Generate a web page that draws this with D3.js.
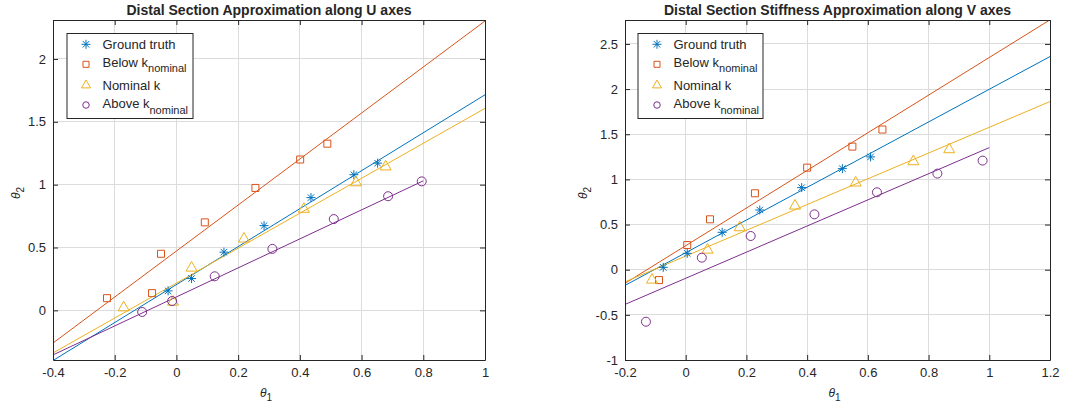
<!doctype html>
<html>
<head>
<meta charset="utf-8">
<script src="https://d3js.org/d3.v7.min.js"></script>
<style>
  body { margin: 0; background: #fff; }
  text { font-family: "Liberation Sans", Arial, Helvetica, sans-serif; fill: #262626; }
</style>
</head>
<body>
<svg id="chart" width="1071" height="406"></svg>
<script>
// ---- data ----
var seriesNames = ["Ground truth", "Below k", "Nominal k", "Above k"];
var seriesSubs = ["", "nominal", "", "nominal"];
var colors = ["#0072BD", "#D95319", "#EDB120", "#7E2F8E"];
var shapes = ["star", "square", "triangle", "circle"];

// U axes panel: [theta1, theta2]
var uGround = [[-0.027, 0.155], [0.049, 0.253], [0.154, 0.463], [0.284, 0.674], [0.436, 0.897], [0.575, 1.079], [0.652, 1.171]];
var uBelow = [[-0.225, 0.097], [-0.079, 0.137], [-0.050, 0.450], [0.092, 0.700], [0.256, 0.974], [0.401, 1.200], [0.489, 1.326]];
var uNominal = [[-0.171, 0.029], [-0.011, 0.074], [0.049, 0.345], [0.219, 0.576], [0.413, 0.813], [0.582, 1.024], [0.678, 1.150]];
var uAbove = [[-0.111, -0.013], [-0.014, 0.074], [0.124, 0.271], [0.311, 0.489], [0.510, 0.726], [0.686, 0.908], [0.795, 1.026]];
// fitted lines: [slope, intercept, xStart, xEnd]
var uFits = [[1.51, 0.205, -0.4, 1.0], [1.83, 0.472, -0.4, 1.0], [1.39, 0.217, -0.4, 1.0], [1.154, 0.107, -0.4, 0.8]];

// V axes panel
var vGround = [[-0.074, 0.026], [0.005, 0.181], [0.120, 0.414], [0.244, 0.661], [0.382, 0.909], [0.516, 1.119], [0.609, 1.249]];
var vBelow = [[-0.088, -0.115], [0.005, 0.273], [0.080, 0.558], [0.228, 0.846], [0.400, 1.130], [0.549, 1.363], [0.648, 1.552]];
var vNominal = [[-0.111, -0.103], [0.072, 0.229], [0.178, 0.477], [0.360, 0.717], [0.560, 0.972], [0.750, 1.208], [0.868, 1.341]];
var vAbove = [[-0.131, -0.576], [0.053, 0.133], [0.214, 0.373], [0.424, 0.613], [0.630, 0.857], [0.829, 1.064], [0.978, 1.208]];
var vFits = [[1.81, 0.188, -0.2, 1.2], [2.084, 0.266, -0.2, 1.2], [1.426, 0.151, -0.2, 1.2], [1.447, -0.095, -0.2, 1.0]];

var uXTicks = [-0.4, -0.2, 0, 0.2, 0.4, 0.6, 0.8, 1];
var uYTicks = [0, 0.5, 1, 1.5, 2];
var vXTicks = [-0.2, 0, 0.2, 0.4, 0.6, 0.8, 1, 1.2];
var vYTicks = [-1, -0.5, 0, 0.5, 1, 1.5, 2, 2.5];

var svg = d3.select("#chart");

function markerPath(shape, s) {
  var h = s / 2;
  if (shape === "star") {
    var d = h * 0.72;
    return "M" + (-h) + ",0L" + h + ",0M0," + (-h) + "L0," + h +
           "M" + (-d) + "," + (-d) + "L" + d + "," + d + "M" + (-d) + "," + d + "L" + d + "," + (-d);
  }
  if (shape === "square") return "M" + (-h) + "," + (-h) + "h" + s + "v" + s + "h" + (-s) + "Z";
  if (shape === "triangle") return "M0," + (-h) + "L" + h + "," + (h * 0.75) + "L" + (-h) + "," + (h * 0.75) + "Z";
  return d3.arc()({innerRadius: 0, outerRadius: h, startAngle: 0, endAngle: 2 * Math.PI});
}
var plotSizes = {star: 9, square: 7, triangle: 11, circle: 9};
var legendSizes = {star: 9, square: 6, triangle: 9, circle: 6.5};

function panel(opt) {
  var x = d3.scaleLinear().domain(opt.xDomain).range([opt.left, opt.right]);
  var y = d3.scaleLinear().domain(opt.yDomain).range([opt.bottom, opt.top]);
  var g = svg.append("g");

  // grid
  g.append("g").selectAll("line.vx").data(opt.xTicks).enter().append("line")
    .attr("x1", d => x(d)).attr("x2", d => x(d)).attr("y1", opt.top).attr("y2", opt.bottom)
    .attr("stroke", "#dcdcdc").attr("stroke-width", 1).attr("shape-rendering", "crispEdges");
  g.append("g").selectAll("line.hy").data(opt.yTicks).enter().append("line")
    .attr("y1", d => y(d)).attr("y2", d => y(d)).attr("x1", opt.left).attr("x2", opt.right)
    .attr("stroke", "#dcdcdc").attr("stroke-width", 1).attr("shape-rendering", "crispEdges");

  // clip for lines
  var clipId = "clip" + opt.id;
  svg.append("clipPath").attr("id", clipId).append("rect")
    .attr("x", opt.left).attr("y", opt.top).attr("width", opt.right - opt.left).attr("height", opt.bottom - opt.top);

  var line = d3.line().x(d => x(d[0])).y(d => y(d[1]));
  var plot = g.append("g").attr("clip-path", "url(#" + clipId + ")");
  opt.fits.forEach(function (f, i) {
    var pts = [[f[2], f[0] * f[2] + f[1]], [f[3], f[0] * f[3] + f[1]]];
    plot.append("path").attr("d", line(pts)).attr("fill", "none")
      .attr("stroke", colors[i]).attr("stroke-width", 1);
  });
  opt.series.forEach(function (data, i) {
    g.append("g").selectAll("path").data(data).enter().append("path")
      .attr("transform", d => "translate(" + x(d[0]) + "," + y(d[1]) + ")")
      .attr("d", markerPath(shapes[i], plotSizes[shapes[i]]))
      .attr("fill", "none").attr("stroke", colors[i]).attr("stroke-width", 1);
  });

  // axes (box with ticks on all sides, pointing inward)
  var fmt = d => String(d);
  var axCol = "#262626";
  function style(a) {
    a.select(".domain").attr("stroke", axCol);
    a.selectAll(".tick line").attr("stroke", axCol);
    a.selectAll(".tick text").style("font-size", "13px").attr("fill", axCol)
      .style("font-family", "'Liberation Sans', Arial, sans-serif");
  }
  g.append("g").attr("transform", "translate(0," + opt.bottom + ")")
    .call(d3.axisBottom(x).tickValues(opt.xTicks).tickFormat(fmt).tickSizeInner(-5).tickSizeOuter(0).tickPadding(8))
    .call(style);
  g.append("g").attr("transform", "translate(0," + opt.top + ")")
    .call(d3.axisTop(x).tickValues(opt.xTicks).tickFormat("").tickSizeInner(-5).tickSizeOuter(0))
    .call(style);
  g.append("g").attr("transform", "translate(" + opt.left + ",0)")
    .call(d3.axisLeft(y).tickValues(opt.yTicks).tickFormat(fmt).tickSizeInner(-5).tickSizeOuter(0).tickPadding(7))
    .call(style);
  g.append("g").attr("transform", "translate(" + opt.right + ",0)")
    .call(d3.axisRight(y).tickValues(opt.yTicks).tickFormat("").tickSizeInner(-5).tickSizeOuter(0))
    .call(style);

  // title
  g.append("text").attr("x", (opt.left + opt.right) / 2).attr("y", 14.5)
    .attr("text-anchor", "middle").style("font-size", "14px").style("font-weight", "bold")
    .attr("fill", "#000").text(opt.title);

  // axis labels
  var xl = g.append("text").attr("x", (opt.left + opt.right) / 2 - 3).attr("y", 397)
    .attr("text-anchor", "middle").style("font-size", "12px");
  xl.append("tspan").style("font-style", "italic").text("\u03B8");
  xl.append("tspan").attr("dy", 4).style("font-size", "10px").text("1");
  var yl = g.append("text").attr("transform", "translate(" + opt.ylabelX + "," + ((opt.top + opt.bottom) / 2 + 3) + ") rotate(-90)")
    .attr("text-anchor", "middle").style("font-size", "12px");
  yl.append("tspan").style("font-style", "italic").text("\u03B8");
  yl.append("tspan").attr("dy", 4).style("font-size", "10px").text("2");

  // legend
  var L = opt.legend;
  g.append("rect").attr("x", L.x + 0.5).attr("y", 33.5).attr("width", L.w).attr("height", 85)
    .attr("fill", "#fff").attr("stroke", "#262626").attr("stroke-width", 1);
  var rowY = [44.3, 64.3, 84.5, 105];
  var textDy = [5, 2.5, 5, 3.3];
  seriesNames.forEach(function (name, i) {
    g.append("path").attr("transform", "translate(" + (L.x + 19.5) + "," + rowY[i] + ")")
      .attr("d", markerPath(shapes[i], legendSizes[shapes[i]]))
      .attr("fill", "none").attr("stroke", colors[i]).attr("stroke-width", 1);
    var t = g.append("text").attr("x", L.x + 36).attr("y", rowY[i] + textDy[i])
      .style("font-size", "13px").attr("fill", "#000");
    t.append("tspan").text(name);
    if (seriesSubs[i]) t.append("tspan").attr("dy", 5.5).style("font-size", "11px").text(seriesSubs[i]);
  });
}

panel({
  id: "u", left: 53, right: 485, top: 20, bottom: 360,
  xDomain: [-0.4, 1], yDomain: [-0.395, 2.31],
  xTicks: uXTicks, yTicks: uYTicks,
  series: [uGround, uBelow, uNominal, uAbove], fits: uFits,
  title: "Distal Section Approximation along U axes",
  ylabelX: 20, legend: {x: 66.5, w: 126}
});
panel({
  id: "v", left: 625, right: 1050, top: 20, bottom: 360,
  xDomain: [-0.2, 1.2], yDomain: [-1, 2.765],
  xTicks: vXTicks, yTicks: vYTicks,
  series: [vGround, vBelow, vNominal, vAbove], fits: vFits,
  title: "Distal Section Stiffness Approximation along V axes",
  ylabelX: 587, legend: {x: 637.5, w: 125}
});
</script>
</body>
</html>
